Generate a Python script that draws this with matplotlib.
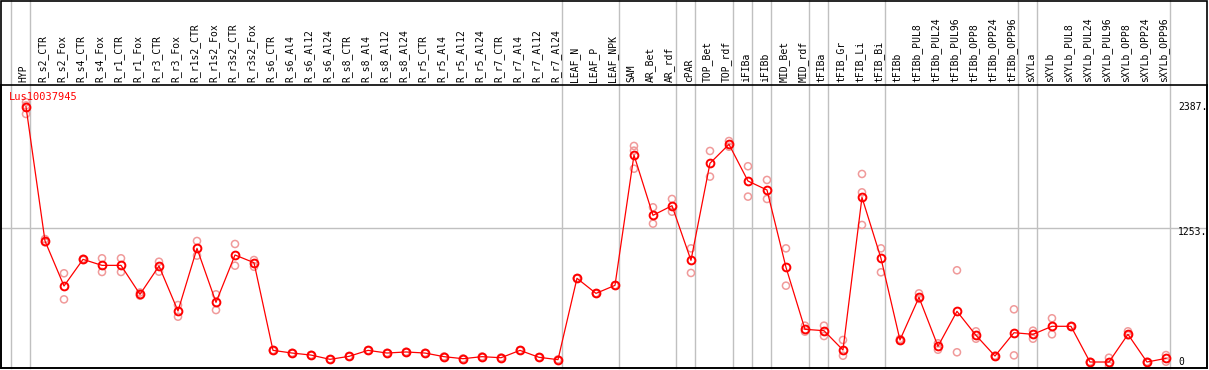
import matplotlib
matplotlib.use('Agg')
import matplotlib.pyplot as plt
from matplotlib.transforms import blended_transform_factory
from matplotlib.patches import Rectangle

title = "Lus10037945"

categories = [
    "HYP", "R_s2_CTR", "R_s2_Fox", "R_s4_CTR", "R_s4_Fox", "R_r1_CTR", "R_r1_Fox",
    "R_r3_CTR", "R_r3_Fox", "R_r1s2_CTR", "R_r1s2_Fox", "R_r3s2_CTR", "R_r3s2_Fox",
    "R_s6_CTR", "R_s6_Al4", "R_s6_Al12", "R_s6_Al24", "R_s8_CTR", "R_s8_Al4",
    "R_s8_Al12", "R_s8_Al24", "R_r5_CTR", "R_r5_Al4", "R_r5_Al12", "R_r5_Al24",
    "R_r7_CTR", "R_r7_Al4", "R_r7_Al12", "R_r7_Al24", "LEAF_N", "LEAF_P", "LEAF_NPK",
    "SAM", "AR_Bet", "AR_rdf", "cPAR", "TOP_Bet", "TOP_rdf", "iFIBa", "iFIBb",
    "MID_Bet", "MID_rdf", "tFIBa", "tFIB_Gr", "tFIB_Li", "tFIB_Bi", "tFIBb",
    "tFIBb_PUL8", "tFIBb_PUL24", "tFIBb_PUL96", "tFIBb_OPP8", "tFIBb_OPP24",
    "tFIBb_OPP96", "sXYLa", "sXYLb", "sXYLb_PUL8", "sXYLb_PUL24", "sXYLb_PUL96",
    "sXYLb_OPP8", "sXYLb_OPP24", "sXYLb_OPP96",
]

means = [
    2387, 1132, 711, 960, 904, 904, 633, 898, 477, 1063, 558, 1001, 929,
    109, 84, 65, 25, 53, 109, 84, 94, 84, 50, 31, 50, 40, 109, 44, 22,
    783, 642, 717,
    1936, 1372, 1462, 951, 1859, 2036, 1693, 1609, 886, 306,
    293, 112, 1540, 970,
    206, 605, 147, 474, 250, 56, 274,
    259, 334, 334, 0, 0, 259, 0, 34,
]

replicates = [
    [2430, 2400, 2320], [1150, 1120], [830, 586], [965, 955], [970, 842], [970, 842],
    [650, 620], [938, 845], [533, 424], [1132, 995], [633, 486], [1104, 901], [954, 891],
    [112, 106], [86, 82], [67, 63], [27, 23], [55, 51], [111, 107], [86, 82], [96, 92],
    [86, 82], [52, 48], [33, 29], [52, 48], [42, 38], [111, 107], [46, 42], [24, 20],
    [785, 781], [644, 640], [719, 715],
    [2021, 1977, 1808], [1447, 1294], [1525, 1406], [1063, 833], [1974, 1734],
    [2067, 2014], [1831, 1547], [1703, 1525], [1063, 714], [340, 284],
    [340, 243], [206, 59], [1759, 1587, 1282], [1063, 839],
    [215, 200], [642, 590], [175, 115], [858, 91], [287, 218], [60, 52], [493, 62],
    [293, 218], [409, 259], [338, 330], [3, -3], [40, -35], [287, 250], [3, -3], [65, 3],
]

# last category index of each group (vertical separators drawn after them)
group_ends = [-1, 0, 28, 31, 34, 35, 37, 38, 39, 41, 42, 45, 52, 53, 60]

ytick_values = [0, 1253, 2387]
ytick_labels = ["0", "1253.", "2387."]
gridline_values = [1253]

W, H = 1209, 370
fig = plt.figure(figsize=(W / 100, H / 100), dpi=100)
ax = fig.add_axes([1 / W, 1 - 368 / H, 1206 / W, 283 / H])
ax.set_xlim(-1.316, 62.16)
ax.set_ylim(-56, 2591)
ax.set_xticks([])
ax.set_yticks([])
for s in ax.spines.values():
    s.set_color('black')
    s.set_linewidth(1.2)

mono = 'DejaVu Sans Mono'
bx = blended_transform_factory(ax.transData, ax.transAxes)
by = blended_transform_factory(ax.transAxes, ax.transData)

# separators through plot and label area
top_ext = 1 + 85 / 283
for g in group_ends:
    ax.plot([g + 0.21, g + 0.21], [0, top_ext], transform=bx, color='#c0c0c0',
            lw=1, clip_on=False, zorder=1)

for gv in gridline_values:
    ax.axhline(gv, color='#c0c0c0', lw=1, zorder=1)

xs = list(range(len(categories)))

# replicate points
rx, ry = [], []
for i, reps in enumerate(replicates):
    for r in reps:
        rx.append(i)
        ry.append(r)
ax.scatter(rx, ry, s=26, facecolors='none', edgecolors='#f09a9a', linewidths=1.1, zorder=2)

ax.plot(xs, means, color='red', lw=0.9, marker='o', mfc='none', mec='red', ms=5.6,
        mew=1.4, zorder=3)

# category labels
for i, c in enumerate(categories):
    ax.text(i - 0.12, 1 + 3 / 283, c, rotation=90, ha='center', va='bottom',
            transform=bx, fontsize=7, family=mono, color='black')

# y labels
for v, lab in zip(ytick_values, ytick_labels):
    off = -40 if v == 1253 else 0
    ax.text(0.976, v + off, lab, transform=by, ha='left', va='center',
            fontsize=7, family=mono, color='black')

ax.text(8 / 1206, (368 - 97) / 283, title, transform=ax.transAxes, ha='left',
        va='center', fontsize=7.5, family=mono, color='red')

# outer frame
fig.add_artist(Rectangle((0.5 / W, 1 - 368 / H), 1206.5 / W, 368 / H - 0.5 / H,
                         transform=fig.transFigure, fill=False, edgecolor='black', lw=1.2))

fig.savefig('out.png', dpi=100, facecolor='white')
